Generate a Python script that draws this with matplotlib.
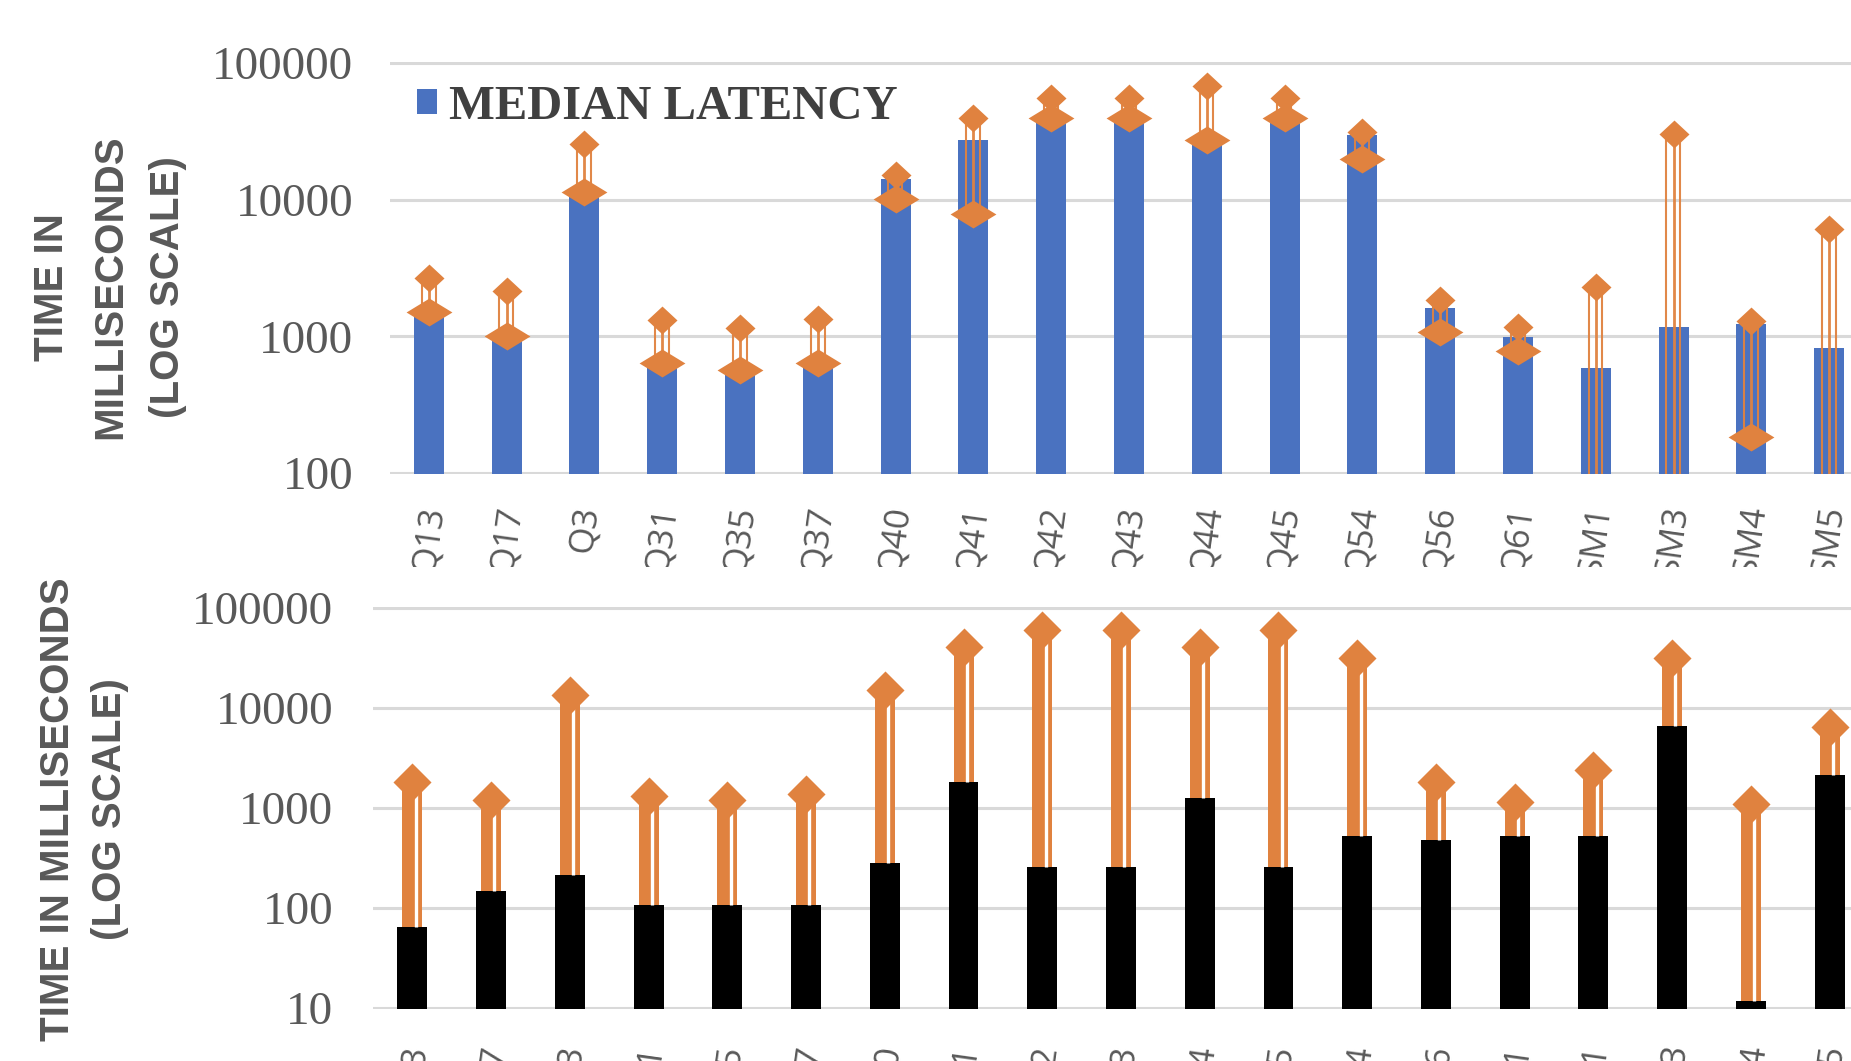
import matplotlib.pyplot as plt
from matplotlib.patches import Rectangle
from matplotlib.ticker import NullLocator

queries = ["Q13", "Q17", "Q3", "Q31", "Q35", "Q37", "Q40", "Q41", "Q42", "Q43",
           "Q44", "Q45", "Q54", "Q56", "Q61", "SM1", "SM3", "SM4", "SM5"]

# top panel: median latency bars with low / high markers
median_ms = [1450, 955, 10900, 627, 553, 627, 14250, 27100, 38000, 38000,
             26000, 38000, 29700, 1615, 990, 587, 1172, 1225, 818]
low_ms = [1500, 1010, 11350, 643, 563, 643, 10050, 7820, 39600, 39600,
          27300, 39600, 19900, 1075, 785, 60, 60, 185, 60]
high_ms = [2670, 2140, 25700, 1325, 1150, 1330, 15100, 39600, 55200, 55200,
           68000, 55200, 31200, 1845, 1172, 2300, 30300, 1300, 6140]

# bottom panel: base bars and peak markers
base_ms = [65, 147, 211, 107, 107, 107, 279, 1790, 255, 255,
           1240, 255, 526, 477, 526, 526, 6560, 11.7, 2130]
peak_ms = [1790, 1195, 13250, 1318, 1200, 1370, 14960, 40400, 59100, 59100,
           40400, 59100, 31400, 1815, 1150, 2380, 31400, 1090, 6410]

top_ticks = [100, 1000, 10000, 100000]
bottom_ticks = [10, 100, 1000, 10000, 100000]

BLUE = "#4A72C0"
ORANGE = "#E0823F"
GRID = "#D9D9D9"
TXT = "#595959"

W, H = 1851, 1061
fig = plt.figure(figsize=(W / 100, H / 100), dpi=100)

# axes placed in pixels; right edge runs past the figure (cropped chart)
ax1 = fig.add_axes([390 / W, 1 - 474.4 / H, 1478 / W, (474.4 - 61.6) / H])
ax2 = fig.add_axes([373 / W, 1 - 1009 / H, 1496 / W, (1009 - 606.5) / H], zorder=1)
ax1.set_yscale("log")
ax2.set_yscale("log")

x = list(range(len(queries)))

high_marker = [(0, 0.93), (1, 0), (0, -0.93), (-1, 0), (0, 0.93)]
low_marker = [(0, 0.61), (1, 0), (0, -0.61), (-1, 0), (0, 0.61)]
peak_marker = [(0, 1), (1, 0), (0, -1), (-1, 0), (0, 1)]

# ---- top chart
bars = ax1.bar(x, median_ms, width=0.386, color=BLUE, zorder=2)
for off, lw in [(-0.093, 1.5), (0.0, 2.0), (0.086, 1.5)]:
    ax1.vlines([i + off for i in x], low_ms, high_ms, color=ORANGE,
               linewidth=lw, alpha=0.95, zorder=3)
ax1.plot(x, low_ms, linestyle="none", marker=low_marker, markersize=33,
         color=ORANGE, markeredgewidth=0, zorder=4)
ax1.plot(x, high_ms, linestyle="none", marker=high_marker, markersize=21.6,
         color=ORANGE, markeredgewidth=0, zorder=4)
ax1.set_ylim(10 ** 1.99, 10 ** 5.01)
ax1.set_yticks(top_ticks, [str(t) for t in top_ticks])

ax1.legend([bars], ["MEDIAN LATENCY"], loc="center left",
           bbox_to_anchor=(0.0183, 0.89), frameon=False, borderpad=0,
           borderaxespad=0, handlelength=0.42, handleheight=0.42,
           handletextpad=0.24, labelcolor="#404040",
           prop=dict(family="Liberation Serif", weight="bold", size=35))

# ---- bottom chart
ax2.bar(x, base_ms, width=0.38, color="black", zorder=2)
ax2.vlines(x, base_ms, peak_ms, color=ORANGE, linewidth=14.4, zorder=3)
ax2.vlines([i + 0.042 for i in x], base_ms, peak_ms, color="white",
           linewidth=2.4, zorder=3)
ax2.plot(x, peak_ms, linestyle="none", marker=peak_marker, markersize=27.4,
         color=ORANGE, markeredgewidth=0, zorder=4)
ax2.set_ylim(10 ** 0.99, 10 ** 5.01)
ax2.set_yticks(bottom_ticks, [str(t) for t in bottom_ticks])

for ax, xpad, ypad in [(ax1, 21, 26.6), (ax2, 24, 28.8)]:
    ax.yaxis.set_minor_locator(NullLocator())
    for s in ax.spines.values():
        s.set_visible(False)
    ax.grid(axis="y", color=GRID, linewidth=2.2)
    ax.set_axisbelow(True)
    ax.set_xlim(-0.5, len(queries) - 0.5)
    ax.set_xticks(x, queries)
    ax.tick_params(axis="x", length=0, pad=xpad)
    ax.tick_params(axis="y", length=0, pad=ypad)
    for lab in ax.get_xticklabels():
        lab.set_rotation(82)
        lab.set_ha("center")
        lab.set_va("top")
        lab.set_family("Open Sans")
        lab.set_fontsize(25)
        lab.set_color(TXT)
    for lab in ax.get_yticklabels():
        lab.set_family("Liberation Serif")
        lab.set_fontsize(34)
        lab.set_color(TXT)

# axis titles
fig.text(110 / W, 1 - 287 / H, "TIME IN\nMILLISECONDS\n(LOG SCALE)",
         rotation=90, ha="center", va="center", multialignment="center",
         family="Liberation Sans", weight="bold", size=29, color=TXT,
         linespacing=1.68)
fig.text(84 / W, 1 - 809 / H, "TIME IN MILLISECONDS\n(LOG SCALE)",
         rotation=90, ha="center", va="center", multialignment="center",
         family="Liberation Sans", weight="bold", size=29, color=TXT,
         linespacing=1.45)

# the two charts were cropped from one page: hide the tail of the upper labels
fig.add_artist(Rectangle((0, 1 - 590 / H), 1, 23 / H, transform=fig.transFigure,
                         facecolor="white", edgecolor="none", zorder=0.5))

fig.savefig("out.png", dpi=100)
